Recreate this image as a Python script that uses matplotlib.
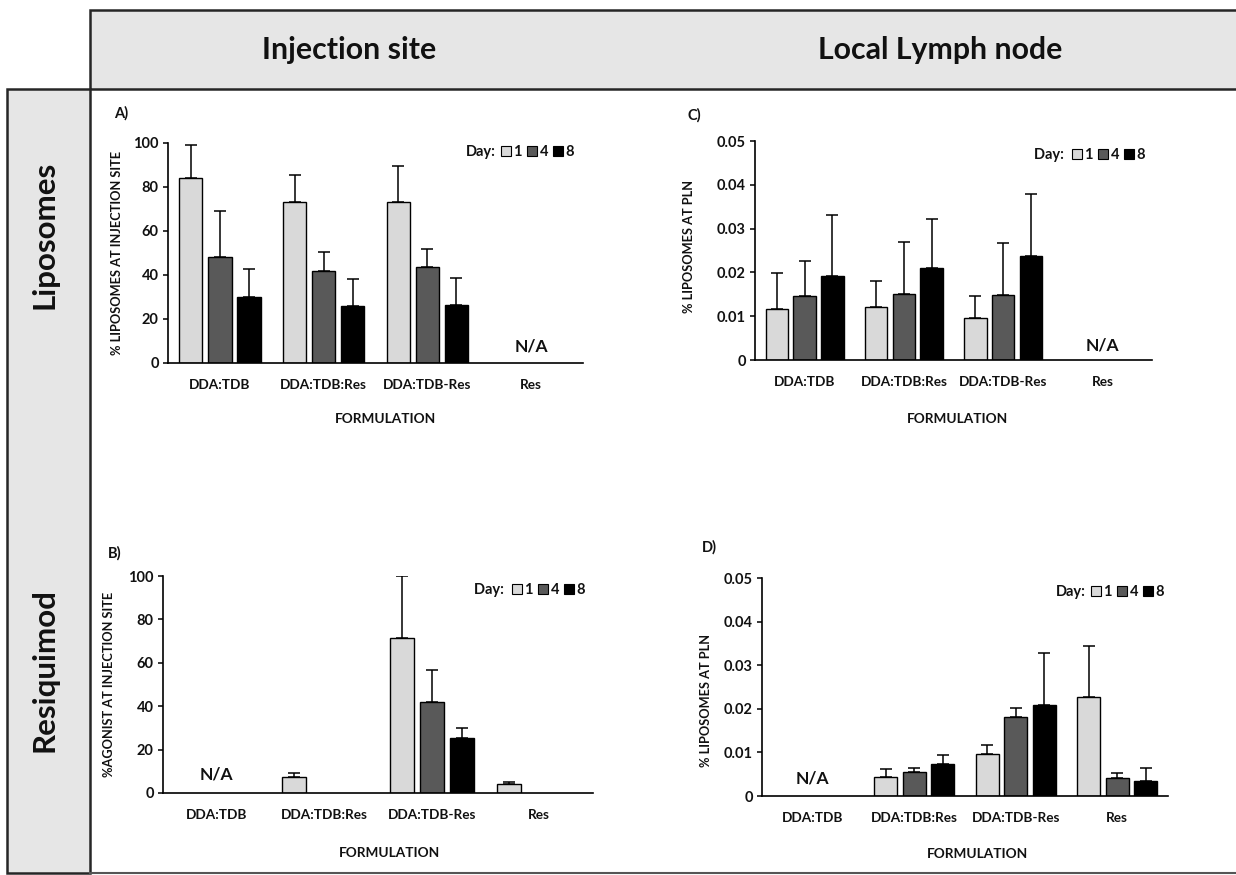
import numpy as np
import matplotlib
matplotlib.use("Agg")
import matplotlib.pyplot as plt
from matplotlib.patches import Rectangle, Patch
from matplotlib.lines import Line2D

plt.rcParams['font.family'] = ['Lato', 'DejaVu Sans']
plt.rcParams['font.weight'] = 'bold'

W, H = 1236, 875
nan = np.nan

categories = ["DDA:TDB", "DDA:TDB:Res", "DDA:TDB-Res", "Res"]
days = ["1", "4", "8"]
day_colors = ["#d9d9d9", "#595959", "#000000"]

# Panel A: % liposomes at injection site
A_day1 = [84.0, 73.0, 73.0, nan]
A_day4 = [48.3, 41.8, 43.7, nan]
A_day8 = [30.2, 26.0, 26.3, nan]
A_err1 = [15.0, 12.3, 16.6, nan]
A_err4 = [20.9, 8.5, 8.1, nan]
A_err8 = [12.5, 12.2, 12.2, nan]

# Panel C: % liposomes at PLN
C_day1 = [0.0116, 0.0121, 0.0097, nan]
C_day4 = [0.0146, 0.0151, 0.0148, nan]
C_day8 = [0.0191, 0.0211, 0.0238, nan]
C_err1 = [0.0083, 0.0060, 0.0050, nan]
C_err4 = [0.0081, 0.0119, 0.0119, nan]
C_err8 = [0.0140, 0.0111, 0.0140, nan]

# Panel B: % agonist at injection site
B_day1 = [nan, 7.2, 71.2, 4.1]
B_day4 = [nan, 0.0, 42.1, 0.0]
B_day8 = [nan, 0.0, 25.3, 0.0]
B_err1 = [nan, 2.0, 28.8, 0.8]
B_err4 = [nan, 0.0, 14.6, 0.0]
B_err8 = [nan, 0.0, 4.6, 0.0]

# Panel D: % liposomes at PLN (resiquimod)
D_day1 = [nan, 0.0044, 0.0097, 0.0226]
D_day4 = [nan, 0.0056, 0.0182, 0.0042]
D_day8 = [nan, 0.0074, 0.0208, 0.0035]
D_err1 = [nan, 0.0019, 0.0020, 0.0119]
D_err4 = [nan, 0.0009, 0.0019, 0.0010]
D_err8 = [nan, 0.0020, 0.0120, 0.0029]

fig = plt.figure(figsize=(W / 100, H / 100), dpi=100)
fig.patch.set_facecolor("white")

def fx(x):
    return x / W

def fy(y):
    return 1 - y / H

# frame boxes
box_fc = "#e6e6e6"
box_ec = "#262626"
fig.patches.append(Rectangle((fx(90), fy(89)), fx(1250 - 90), (89 - 10) / H,
                             transform=fig.transFigure, facecolor=box_fc,
                             edgecolor=box_ec, linewidth=1.8, zorder=0))
fig.patches.append(Rectangle((fx(7), fy(873)), fx(90 - 7), (873 - 89) / H,
                             transform=fig.transFigure, facecolor=box_fc,
                             edgecolor=box_ec, linewidth=1.8, zorder=0))
fig.lines.append(Line2D([fx(90), fx(1236)], [fy(873), fy(873)],
                        transform=fig.transFigure, color="#555555", linewidth=1.5))

fig.text(fx(349), fy(50), "Injection site", ha="center", va="center",
         fontsize=21.8, fontweight="bold", color="#111111")
fig.text(fx(940), fy(50), "Local Lymph node", ha="center", va="center",
         fontsize=21.8, fontweight="bold", color="#111111")
fig.text(fx(45), fy(235), "Liposomes", ha="center", va="center", rotation=90,
         fontsize=22.5, fontweight="bold", color="#111111")
fig.text(fx(45), fy(670), "Resiquimod", ha="center", va="center", rotation=90,
         fontsize=22.5, fontweight="bold", color="#111111")


def panel(box, ylim, yticks, vals, errs, ylabel, ylab_xy, xlab_xy, na_cat, na_y,
          letter, letter_xy, leg_xy, day_label, yfmt):
    x0, y0, x1, y1 = box
    ax = fig.add_axes([fx(x0), fy(y1), fx(x1 - x0), (y1 - y0) / H])
    x = np.arange(len(categories))
    offs = [-0.28, 0.0, 0.28]
    for i in range(3):
        v = np.array(vals[i], dtype=float)
        e = np.array(errs[i], dtype=float)
        m = np.isfinite(v) & (v > 0)
        ax.bar(x[m] + offs[i], v[m], width=0.225, color=day_colors[i],
               edgecolor="black", linewidth=1.0, zorder=2)
        ax.errorbar(x[m] + offs[i], v[m], yerr=[np.zeros(m.sum()), e[m]],
                    fmt="none", ecolor="black", elinewidth=1.1, capsize=4,
                    capthick=1.1, zorder=3)
    ax.set_xlim(-0.5, len(categories) - 0.5)
    ax.set_ylim(*ylim)
    ax.set_yticks(yticks)
    ax.set_yticklabels([yfmt(t) for t in yticks])
    ax.set_xticks(x)
    ax.set_xticklabels(categories)
    for s in ["top", "right"]:
        ax.spines[s].set_visible(False)
    for s in ["left", "bottom"]:
        ax.spines[s].set_linewidth(1.2)
        ax.spines[s].set_color("black")
    ax.tick_params(axis="x", length=0, pad=11.5, labelsize=9.8)
    ax.tick_params(axis="y", length=3.6, width=1.1, pad=3, labelsize=10.5)
    for lab in ax.get_xticklabels() + ax.get_yticklabels():
        lab.set_fontweight("bold")
        lab.set_color("#111111")
    ax.set_ylabel(ylabel, fontsize=9.2, fontweight="bold", color="#111111")
    ax.yaxis.set_label_coords(*ylab_xy)
    ax.set_xlabel("FORMULATION", fontsize=9.8, fontweight="bold", color="#111111")
    ax.xaxis.set_label_coords(*xlab_xy)
    ax.text(na_cat, na_y, "N/A", ha="center", va="center", fontsize=12.5,
            fontweight="bold", color="#111111")
    fig.text(fx(letter_xy[0]), fy(letter_xy[1]), letter, ha="left", va="center",
             fontsize=10.5, fontweight="bold", color="#111111")
    handles = [Patch(facecolor="none", edgecolor="none")] + \
        [Patch(facecolor=c, edgecolor="black", linewidth=0.8) for c in day_colors]
    labels = [day_label] + days
    leg = ax.legend(handles, labels, ncol=4, frameon=False, loc="center right",
                    bbox_to_anchor=(fx(leg_xy[0]), fy(leg_xy[1])),
                    bbox_transform=fig.transFigure, handlelength=0.65,
                    handleheight=0.65, handletextpad=0.2, columnspacing=0.35,
                    borderpad=0, borderaxespad=0, prop={"size": 10.5, "weight": "bold"})
    for t in leg.get_texts():
        t.set_color("#111111")
    return ax


pct_fmt = lambda t: f"{t:g}"

# A
panel((168, 143, 583, 363), (0, 100), [0, 20, 40, 60, 80, 100],
      [A_day1, A_day4, A_day8], [A_err1, A_err4, A_err8],
      "% LIPOSOMES AT INJECTION SITE", (-0.108, 0.5), (0.523, -0.228),
      3, 7.3, "A)", (114, 113), (574, 152), "Day:", pct_fmt)
# C
panel((755, 141, 1152, 360), (0, 0.05), [0, 0.01, 0.02, 0.03, 0.04, 0.05],
      [C_day1, C_day4, C_day8], [C_err1, C_err4, C_err8],
      "% LIPOSOMES AT PLN", (-0.150, 0.52), (0.511, -0.242),
      3, 0.0034, "C)", (687, 115), (1145, 155), "Day: ", pct_fmt)
# B
panel((163, 576, 593, 793), (0, 100), [0, 20, 40, 60, 80, 100],
      [B_day1, B_day4, B_day8], [B_err1, B_err4, B_err8],
      "%AGONIST AT INJECTION SITE", (-0.112, 0.5), (0.526, -0.249),
      0, 8.3, "B)", (108, 553), (585, 590), "Day: ", pct_fmt)
# D
panel((762, 578, 1168, 796), (0, 0.05), [0, 0.01, 0.02, 0.03, 0.04, 0.05],
      [D_day1, D_day4, D_day8], [D_err1, D_err4, D_err8],
      "% LIPOSOMES AT PLN", (-0.124, 0.44), (0.532, -0.238),
      0, 0.0041, "D)", (702, 547), (1164, 592), "Day:", pct_fmt)

fig.savefig("out.png", dpi=100, facecolor="white")
